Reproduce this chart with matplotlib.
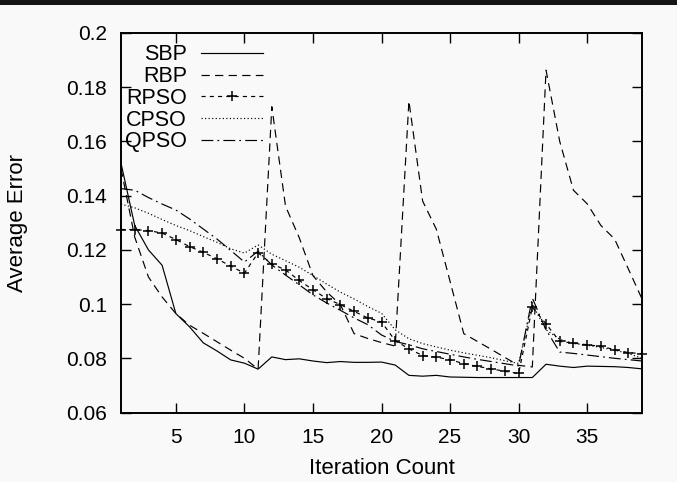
import matplotlib
matplotlib.use("Agg")
import matplotlib.pyplot as plt
from matplotlib.ticker import FuncFormatter
from matplotlib.patches import Rectangle

iterations = list(range(1, 40))

sbp = [0.152, 0.129, 0.120, 0.1143, 0.0965, 0.0916, 0.0857, 0.0827, 0.0794, 0.0782,
       0.0760, 0.0805, 0.0795, 0.0798, 0.0790, 0.0784, 0.0788, 0.0785, 0.0785, 0.0786,
       0.0775, 0.0737, 0.0734, 0.0737, 0.0731, 0.0730, 0.0729, 0.0729, 0.0729, 0.0729,
       0.0729, 0.0778, 0.0771, 0.0766, 0.0771, 0.0770, 0.0769, 0.0766, 0.0761]
rbp = [0.150, 0.1247, 0.110, 0.1026, 0.0965, 0.0922, 0.0892, 0.0861, 0.0830, 0.0800,
       0.0760, 0.1728, 0.1361, 0.1245, 0.1105, 0.1045, 0.0998, 0.0891, 0.0873, 0.0858,
       0.0845, 0.1749, 0.1380, 0.1276, 0.1084, 0.0891, 0.0862, 0.0833, 0.0803, 0.0774,
       0.0768, 0.1863, 0.1600, 0.1420, 0.1370, 0.1290, 0.1240, 0.1130, 0.1019]
rpso = [0.1275, 0.1275, 0.1271, 0.1262, 0.1238, 0.1212, 0.1191, 0.1167, 0.1140, 0.1114,
        0.1189, 0.1148, 0.1126, 0.1087, 0.1053, 0.1020, 0.0998, 0.0973, 0.0949, 0.0934,
        0.0865, 0.0835, 0.0810, 0.0804, 0.0795, 0.0780, 0.0770, 0.0761, 0.0752, 0.0744,
        0.0988, 0.0927, 0.0862, 0.0856, 0.0850, 0.0844, 0.0832, 0.0821, 0.0817]
cpso = [0.1369, 0.1355, 0.1335, 0.1312, 0.1290, 0.1271, 0.1249, 0.1228, 0.1204, 0.1188,
        0.1218, 0.1184, 0.1160, 0.1136, 0.1105, 0.1074, 0.1044, 0.1019, 0.0991, 0.0966,
        0.0905, 0.0872, 0.0854, 0.0842, 0.0830, 0.0820, 0.0811, 0.0802, 0.0791, 0.0781,
        0.1000, 0.0905, 0.0870, 0.0855, 0.0848, 0.0840, 0.0830, 0.0818, 0.0800]
qpso = [0.1426, 0.1420, 0.1393, 0.1369, 0.1347, 0.1314, 0.1277, 0.1240, 0.1198, 0.1155,
        0.1195, 0.1144, 0.1107, 0.1071, 0.1034, 0.1004, 0.0977, 0.0949, 0.0924, 0.0886,
        0.0862, 0.0850, 0.0835, 0.0825, 0.0815, 0.0805, 0.0796, 0.0788, 0.0780, 0.0772,
        0.1022, 0.0905, 0.0823, 0.0818, 0.0812, 0.0806, 0.0800, 0.0795, 0.0790]

x_ticks = [5, 10, 15, 20, 25, 30, 35]
y_ticks = [0.06, 0.08, 0.1, 0.12, 0.14, 0.16, 0.18, 0.2]

plt.rcParams['font.family'] = ['Liberation Sans', 'DejaVu Sans']
plt.rcParams['font.size'] = 15

bg = '#f9f9f9'
fig = plt.figure(figsize=(6.77, 4.82), dpi=100, facecolor=bg)
ax = fig.add_axes([121/677, 1 - 412.5/482, 521/677, 379.5/482], facecolor=bg)

# dark strip along the top edge of the screenshot
fig.add_artist(Rectangle((0, 1 - 5/482), 1, 5/482, transform=fig.transFigure,
                         facecolor='#151515', edgecolor='none'))

lw = 0.85
ax.plot(iterations, sbp, color='black', lw=lw, label='SBP')
ax.plot(iterations, rbp, color='black', lw=lw, dashes=(7, 4.5), label='RBP')
ax.plot(iterations, rpso, color='black', lw=lw, dashes=(3.5, 3.5), marker='+',
        markersize=7.5, markeredgewidth=1.1, clip_on=False, label='RPSO')
ax.plot(iterations, cpso, color='black', lw=lw, dashes=(1, 2), label='CPSO')
ax.plot(iterations, qpso, color='black', lw=lw, dashes=(10, 3.5, 1.5, 3.5), label='QPSO')

ax.set_xlim(1, 39)
ax.set_ylim(0.06, 0.2)
ax.set_xticks(x_ticks)
ax.set_yticks(y_ticks)
ax.yaxis.set_major_formatter(FuncFormatter(lambda v, p: '%g' % v))
ax.tick_params(direction='in', length=7, width=1, top=True, right=True,
               colors='black', labelsize=15)
ax.tick_params(axis='x', pad=11)
ax.tick_params(axis='y', pad=10)
for s in ax.spines.values():
    s.set_linewidth(1.4)

ax.set_xlabel('Iteration Count', fontsize=16, labelpad=8)
ax.set_ylabel('Average Error', fontsize=16)
ax.yaxis.set_label_coords(-0.179, 0.5)

leg = ax.legend(loc='upper right', bbox_to_anchor=(0.2726, 0.970), frameon=False,
                markerfirst=False, handlelength=2.88, handletextpad=0.65,
                labelspacing=0.035, borderpad=0, borderaxespad=0, fontsize=15.5)

fig.savefig('out.png', dpi=100, facecolor=bg)
